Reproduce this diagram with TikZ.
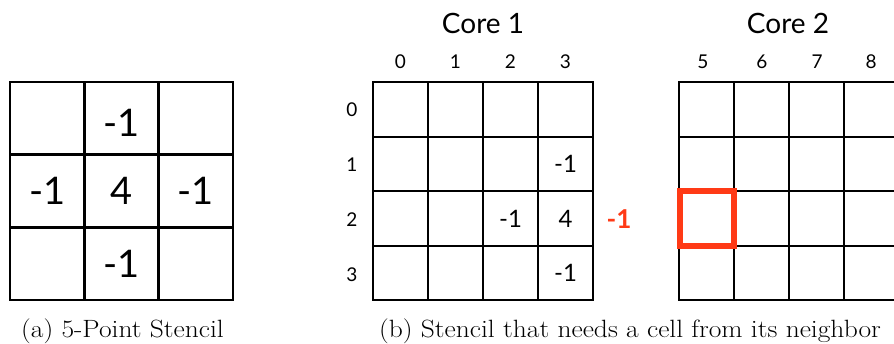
\documentclass[tikz,border=0pt]{standalone}
\usepackage{fontspec}
\newfontfamily\lblfont{Lato}
\definecolor{hotred}{RGB}{255,58,22}
\begin{document}
\begin{tikzpicture}[x=1pt,y=-1pt,
  gridline/.style={line width=2.6pt,line cap=rect},
  bigval/.style={font=\lblfont\fontsize{38}{38}\selectfont,inner sep=0pt},
  val/.style={font=\lblfont\fontsize{24}{24}\selectfont,inner sep=0pt},
  idx/.style={font=\lblfont\fontsize{19}{19}\selectfont,inner sep=0pt},
  title/.style={font=\lblfont\fontsize{28}{28}\selectfont,inner sep=0pt},
  captext/.style={font=\fontsize{25}{25}\selectfont,inner sep=0pt,anchor=base,xscale=1.1},
  ghost/.style={font=\lblfont\bfseries\fontsize{26}{26}\selectfont,text=hotred,inner sep=0pt},
  redbox/.style={draw=hotred,line width=6pt}]
\useasboundingbox (0,0) rectangle (894,343);
\clip (0,0) rectangle (894,343);
% (a) 5-point stencil
\draw[gridline] (10,82) rectangle (233,300);
\foreach \x in {84.3,158.7} \draw[gridline] (\x,82) -- (\x,300);
\foreach \y in {154.7,227.3} \draw[gridline] (10,\y) -- (233,\y);
\node[bigval] (s1) at (121.5,123) {-1};
\node[bigval] (s2) at (47.2,191) {-1};
\node[bigval] (s3) at (121.5,191) {4};
\node[bigval] (s4) at (195.8,191) {-1};
\node[bigval] (s5) at (121.5,263.5) {-1};
% Core 1
\draw[gridline] (373,82) rectangle (593,300);
\foreach \x in {428,483,538} \draw[gridline] (\x,82) -- (\x,300);
\foreach \y in {137,191,246} \draw[gridline] (373,\y) -- (593,\y);
\node[title] (t1) at (483,23) {Core 1};
\node[idx] (c0) at (400.5,62) {0};
\node[idx] (c1) at (455.5,62) {1};
\node[idx] (c2) at (510.5,62) {2};
\node[idx] (c3) at (565.5,62) {3};
\node[idx] (r0) at (352,110) {0};
\node[idx] (r1) at (352,165) {1};
\node[idx] (r2) at (352,220) {2};
\node[idx] (r3) at (352,275) {3};
\node[val] (v1) at (565.5,164) {-1};
\node[val] (v2) at (510.5,219) {-1};
\node[val] (v3) at (565.5,219) {4};
\node[val] (v4) at (565.5,273) {-1};
\node[ghost] (g) at (619,219) {-1};
% Core 2
\draw[gridline] (679,82) -- (905,82);
\draw[gridline] (679,300) -- (905,300);
\foreach \x in {679,734,789,844,899} \draw[gridline] (\x,82) -- (\x,300);
\foreach \y in {137,191,246} \draw[gridline] (679,\y) -- (905,\y);
\node[title] (t2) at (788,23) {Core 2};
\node[idx] (d5) at (703,62) {5};
\node[idx] (d6) at (762,62) {6};
\node[idx] (d7) at (817,62) {7};
\node[idx] (d8) at (871,62) {8};
\draw[redbox] (680,191) rectangle (734,246);
% captions
\node[captext] (ca) at (122.5,337) {(a) 5-Point Stencil};
\node[captext] (cb) at (630,337) {(b) Stencil that needs a cell from its neighbor};
\end{tikzpicture}
\end{document}
